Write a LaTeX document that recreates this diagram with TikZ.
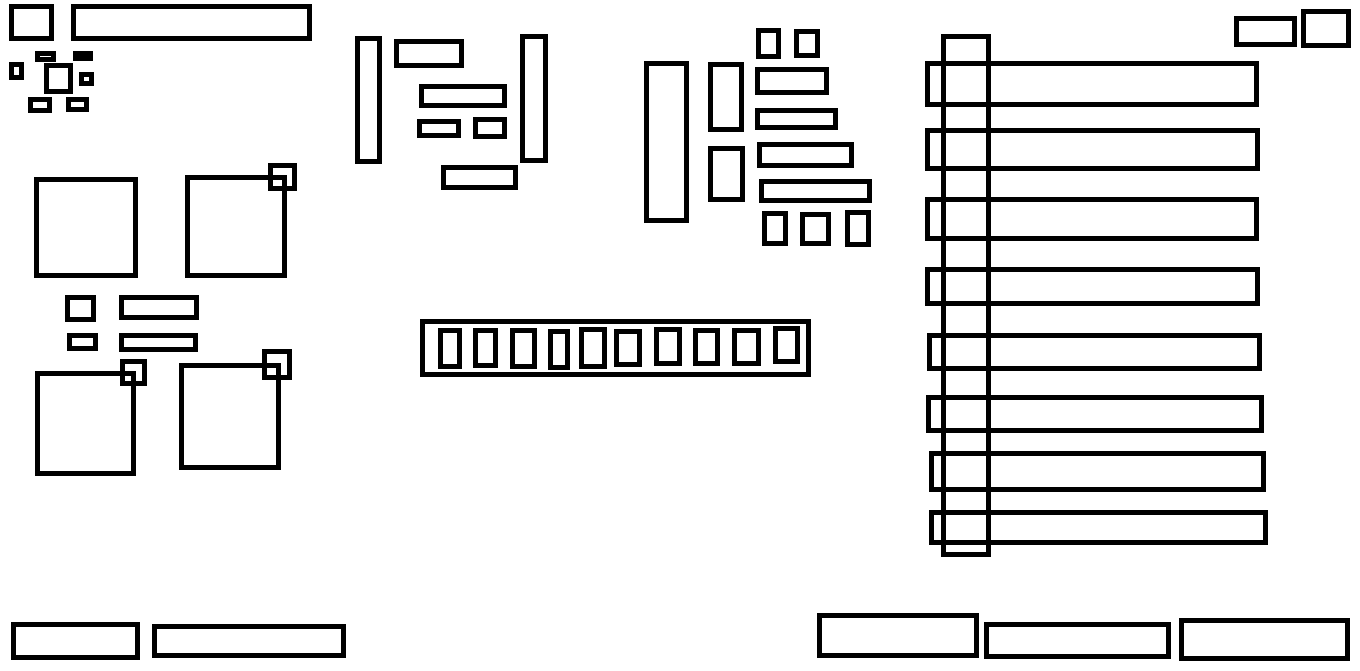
\documentclass[tikz,border=0pt]{standalone}
\tikzset{
  part/.style={draw=black,line width=5pt,fill=none,line join=miter},
  solidpart/.style={draw=black,line width=5pt,fill=black}
}
% outer edges in reference pixels: x1 y1 x2 y2
\newcommand{\pbox}[4]{\draw[part] ({#1+2.5},{#2+2.5}) rectangle ({#3-2.5},{#4-2.5});}
\begin{document}
\begin{tikzpicture}[x=1pt,y=-1pt]
\useasboundingbox (0,0) rectangle (1360,670);
% top left
\pbox{9}{4}{54}{41}
\pbox{71}{4}{312}{41}
\pbox{35}{51}{56}{62}
\draw[solidpart] (75.5,53.5) rectangle (90.5,58.5);
\pbox{9}{62}{24}{80}
\pbox{44}{63}{73}{94}
\pbox{79}{72}{94}{86}
\pbox{28}{97}{52}{113}
\pbox{66}{97}{89}{112}
% left block
\pbox{34}{177}{138}{278}
\pbox{185}{175}{287}{278}
\pbox{268}{163}{297}{191}
\pbox{65}{295}{96}{322}
\pbox{119}{295}{199}{320}
\pbox{67}{333}{98}{351}
\pbox{119}{333}{198}{352}
\pbox{35}{371}{136}{476}
\pbox{120}{359}{147}{386}
\pbox{179}{363}{281}{470}
\pbox{262}{349}{292}{380}
% top middle
\pbox{355}{36}{382}{164}
\pbox{394}{39}{464}{68}
\pbox{419}{84}{507}{108}
\pbox{417}{119}{461}{138}
\pbox{473}{117}{507}{139}
\pbox{520}{34}{548}{163}
\pbox{441}{165}{518}{190}
% second group
\pbox{644}{61}{689}{223}
\pbox{708}{62}{744}{132}
\pbox{708}{146}{745}{202}
\pbox{756}{28}{781}{59}
\pbox{794}{29}{820}{58}
\pbox{755}{67}{829}{95}
\pbox{755}{108}{838}{130}
\pbox{757}{142}{854}{168}
\pbox{759}{179}{872}{203}
\pbox{762}{211}{788}{246}
\pbox{800}{212}{831}{246}
\pbox{845}{210}{871}{247}
% strip
\pbox{420}{319}{811}{377}
\pbox{438}{328}{462}{369}
\pbox{473}{328}{498}{368}
\pbox{510}{328}{537}{369}
\pbox{548}{329}{570}{370}
\pbox{579}{327}{607}{369}
\pbox{614}{329}{642}{367}
\pbox{654}{327}{682}{366}
\pbox{693}{328}{720}{366}
\pbox{732}{328}{761}{366}
\pbox{773}{326}{800}{364}
% right rows
\pbox{925}{61}{1259}{107}
\pbox{925}{128}{1260}{171}
\pbox{925}{197}{1259}{241}
\pbox{925}{267}{1260}{306}
\pbox{927}{333}{1262}{371}
\pbox{926}{395}{1264}{433}
\pbox{929}{451}{1266}{492}
\pbox{929}{510}{1268}{545}
\pbox{941}{34}{991}{557}
% top right
\pbox{1234}{16}{1297}{47}
\pbox{1301}{9}{1351}{48}
% bottom
\pbox{11}{622}{140}{660}
\pbox{152}{624}{346}{658}
\pbox{817}{613}{979}{658}
\pbox{984}{622}{1171}{659}
\pbox{1179}{618}{1350}{661}
\end{tikzpicture}
\end{document}
